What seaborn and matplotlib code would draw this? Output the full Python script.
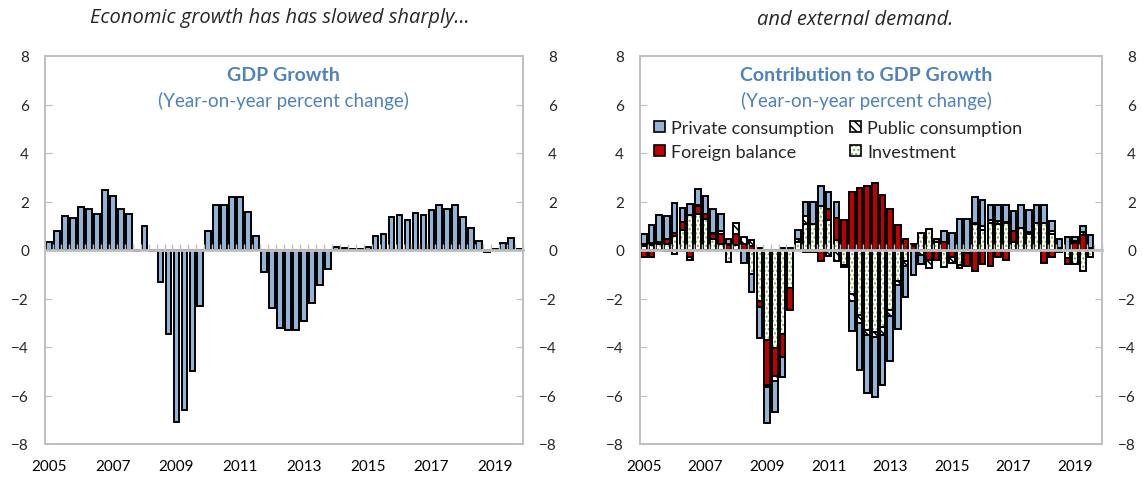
import numpy as np
import seaborn as sns
import matplotlib.pyplot as plt
from matplotlib.patches import Patch

# quarterly categories 2005Q1 .. 2019Q4
years = list(range(2005, 2020))
quarters = [f"{y}Q{q}" for y in years for q in range(1, 5)]
year_ticks = [2005, 2007, 2009, 2011, 2013, 2015, 2017, 2019]

# left panel: GDP growth, y/y percent
gdp_growth = [
    0.35, 0.77, 1.42, 1.34, 1.79, 1.71, 1.49, 2.49,
    2.22, 1.71, 1.49, -0.05, 0.99, -0.05, -1.33, -3.46,
    -7.10, -6.60, -4.99, -2.29, 0.77, 1.87, 1.87, 2.17,
    2.17, 1.57, 0.57, -0.90, -2.40, -3.22, -3.30, -3.30,
    -2.93, -2.18, -1.46, -0.78, 0.14, 0.10, 0.03, 0.03,
    0.14, 0.57, 0.64, 1.35, 1.43, 1.22, 1.51, 1.43,
    1.65, 1.86, 1.70, 1.86, 1.35, 0.92, 0.36, -0.08,
    0.03, 0.30, 0.50, 0.05,
]

# right panel: contributions (2005Q1 .. 2019Q3)
investment = [
    0.15, 0.20, 0.24, 0.24, 0.57, 0.81, 1.45, 1.50,
    1.28, 0.47, 0.24, -0.50, 0.20, 0.00, -0.97, -2.10,
    -3.73, -4.05, -3.47, -1.58, 0.34, 1.08, 1.08, 1.82,
    1.22, 0.40, -0.60, -1.83, -2.70, -3.31, -3.38, -3.18,
    -2.46, -1.26, -0.47, 0.00, 0.72, 0.85, 0.34, -0.72,
    0.00, -0.60, -0.14, 1.08, 0.84, 1.12, 1.08, 1.10,
    0.34, 0.92, 0.68, 1.10, 1.10, 0.68, 0.10, -0.34,
    -0.57, -0.88, -0.30,
]
foreign_bal = [
    -0.30, -0.30, 0.00, 0.23, 0.13, 0.34, -0.30, 0.30,
    0.20, 0.20, 0.43, 0.20, 0.45, 0.25, 0.15, -0.27,
    -1.84, -1.15, -0.96, -0.88, 0.00, -0.10, -0.10, -0.45,
    0.47, 0.90, 1.22, 2.40, 2.57, 2.65, 2.77, 2.27,
    1.69, 1.05, 0.47, 0.15, 0.00, -0.43, -0.42, 0.34,
    -0.30, 0.00, -0.50, -0.88, -0.58, -0.68, -0.30, -0.42,
    0.43, 0.00, 0.07, 0.00, -0.54, -0.30, -0.08, -0.24,
    0.27, 0.60, 0.00,
]
public_cons = [
    0.10, 0.10, 0.10, -0.05, -0.15, -0.05, -0.10, 0.05,
    0.02, 0.02, 0.13, 0.05, 0.45, 0.30, 0.25, 0.10,
    -0.08, -0.20, 0.10, 0.10, 0.13, 0.34, 0.00, 0.00,
    -0.25, -0.45, -0.10, -0.27, -0.30, -0.20, -0.20, -0.34,
    -0.28, -0.19, -0.20, 0.10, -0.20, -0.30, 0.00, 0.00,
    -0.24, -0.14, 0.00, 0.05, 0.14, 0.10, 0.10, 0.05,
    0.00, 0.00, 0.00, 0.00, 0.00, 0.10, 0.00, 0.00,
    0.10, 0.13, 0.10,
]
private_cons = [
    0.40, 0.75, 1.10, 0.92, 1.25, 0.60, 0.45, 0.65,
    0.72, 1.02, 0.69, 0.20, 0.00, -0.52, -0.78, -1.26,
    -1.50, -1.28, -0.81, 0.00, 0.37, 0.57, 0.91, 0.80,
    0.71, 0.67, 0.00, -1.22, -1.95, -2.38, -2.50, -2.03,
    -1.85, -1.80, -1.28, -1.03, -0.38, 0.00, 0.13, 0.43,
    0.72, 1.28, 1.28, 1.07, 1.07, 0.63, 0.67, 0.70,
    0.85, 0.93, 0.88, 0.75, 0.75, 0.42, 0.37, 0.54,
    0.16, 0.24, 0.53,
]

BLUE = "#95B3D7"
RED = "#C00000"
GREEN = "#7FAE55"
FRAME = "#BFBFBF"
TITLE_BLUE = "#4F81BD"
BAR_W = 0.72
EDGE_LW = 1.4
INV_HATCH = "...."
PUB_HATCH = "\\\\\\\\"

sns.set_style("white")
plt.rcParams["font.family"] = ["Lato", "DejaVu Sans"]
plt.rcParams["hatch.linewidth"] = 1.1

fig = plt.figure(figsize=(11.43, 4.81), dpi=100)
ax1 = fig.add_axes([45 / 1143, 36 / 481, 478 / 1143, 388 / 481])
ax2 = fig.add_axes([640 / 1143, 36 / 481, 462 / 1143, 388 / 481])


def style_axis(ax):
    n = len(quarters)
    ax.set_xlim(-0.5, n - 0.5)
    ax.set_ylim(-8, 8)
    ax.set_yticks(range(-8, 9, 2))
    ax.set_xticks([quarters.index(f"{y}Q1") for y in year_ticks])
    ax.set_xticklabels([str(y) for y in year_ticks])
    ax.set_xlabel("")
    ax.set_ylabel("")
    ax.tick_params(axis="x", length=0, pad=11, labelsize=11, colors="black")
    ax.tick_params(axis="y", direction="in", length=5, color=FRAME,
                   left=True, right=False, pad=11.5, labelsize=11)
    for s in ax.spines.values():
        s.set_color(FRAME)
        s.set_linewidth(1.3)

    # right-hand copy of the value axis
    axr = ax.twinx()
    axr.set_ylim(-8, 8)
    axr.set_yticks(range(-8, 9, 2))
    axr.tick_params(axis="y", direction="in", length=5, color=FRAME,
                    pad=24.5, labelsize=11)
    for lab in axr.get_yticklabels():
        lab.set_horizontalalignment("right")
    for s in axr.spines.values():
        s.set_color(FRAME)
        s.set_linewidth(1.3)

    # category axis crossing at zero, with tick marks between quarters
    zero = ax.secondary_xaxis(0.5)
    zero.set_xticks(np.arange(-0.5, n, 1))
    zero.set_xticklabels([])
    zero.tick_params(axis="x", direction="out", length=4, width=1, color=FRAME)
    for s in zero.spines.values():
        s.set_color(FRAME)
        s.set_linewidth(2)
    zero.set_zorder(3)


# ---- left panel ----
sns.barplot(x=quarters, y=gdp_growth, order=quarters, color=BLUE,
            saturation=1, width=BAR_W, errorbar=None,
            edgecolor="black", linewidth=EDGE_LW, ax=ax1)
style_axis(ax1)
ax1.text(0.498, 0.952, "GDP Growth", transform=ax1.transAxes, ha="center",
         va="center", fontsize=14, fontweight="bold", color=TITLE_BLUE)
ax1.text(0.498, 0.886, "(Year-on-year percent change)", transform=ax1.transAxes,
         ha="center", va="center", fontsize=13.5, color=TITLE_BLUE)

# ---- right panel: stacked contributions ----
m = len(private_cons)
cats = quarters[:m]
layers = [
    ("Investment", investment, dict(facecolor="white", edgecolor=GREEN,
                                     hatch=INV_HATCH, linewidth=0)),
    ("Foreign balance", foreign_bal, dict(facecolor=RED, edgecolor="black",
                                          linewidth=EDGE_LW)),
    ("Public consumption", public_cons, dict(facecolor="white", edgecolor="black",
                                             hatch=PUB_HATCH, linewidth=EDGE_LW)),
    ("Private consumption", private_cons, dict(facecolor=BLUE, edgecolor="black",
                                               linewidth=EDGE_LW)),
]
pos = np.zeros(m)
neg = np.zeros(m)
for name, vals, kw in layers:
    v = np.asarray(vals, dtype=float)
    bottom = np.where(v >= 0, pos, neg)
    sns.barplot(x=cats, y=v, order=quarters, color=BLUE, saturation=1,
                width=BAR_W, errorbar=None, bottom=bottom, ax=ax2, **kw)
    if name == "Investment":
        # black outline on top of the green dotted fill
        sns.barplot(x=cats, y=v, order=quarters, color=BLUE, saturation=1,
                    width=BAR_W, errorbar=None, bottom=bottom, ax=ax2,
                    facecolor="none", edgecolor="black", linewidth=EDGE_LW)
    pos += np.clip(v, 0, None)
    neg += np.clip(v, None, 0)

for p in ax2.patches:
    if p.get_height() == 0:
        p.set_linewidth(0)

style_axis(ax2)
ax2.text(0.49, 0.952, "Contribution to GDP Growth", transform=ax2.transAxes,
         ha="center", va="center", fontsize=14, fontweight="bold", color=TITLE_BLUE)
ax2.text(0.49, 0.886, "(Year-on-year percent change)", transform=ax2.transAxes,
         ha="center", va="center", fontsize=13.5, color=TITLE_BLUE)

h_priv = Patch(facecolor=BLUE, edgecolor="black", linewidth=1.2)
h_pub = Patch(facecolor="white", edgecolor="black", hatch=PUB_HATCH, linewidth=1.2)
h_fb = Patch(facecolor=RED, edgecolor="black", linewidth=1.2)
h_inv = (Patch(facecolor="white", edgecolor=GREEN, hatch=INV_HATCH, linewidth=0),
         Patch(facecolor="none", edgecolor="black", linewidth=1.2))
ax2.legend([h_priv, h_fb, h_pub, h_inv],
           ["Private consumption", "Foreign balance", "Public consumption", "Investment"],
           ncol=2, loc="upper left", bbox_to_anchor=(0.03, 0.836), frameon=False,
           fontsize=13, handlelength=0.6, handleheight=0.6, handletextpad=0.35,
           columnspacing=0.9, labelspacing=0.45, borderpad=0, borderaxespad=0)

# panel headlines
fig.text(280 / 1143, 1 - 18 / 481, "Economic growth has has slowed sharply\u2026",
         style="italic", ha="center", va="center", fontsize=14.5,
         family=["Open Sans", "DejaVu Sans"])
fig.text(855 / 1143, 1 - 20 / 481, "and external demand.",
         style="italic", ha="center", va="center", fontsize=14.5,
         family=["Open Sans", "DejaVu Sans"])

fig.savefig("out.png", dpi=100)
